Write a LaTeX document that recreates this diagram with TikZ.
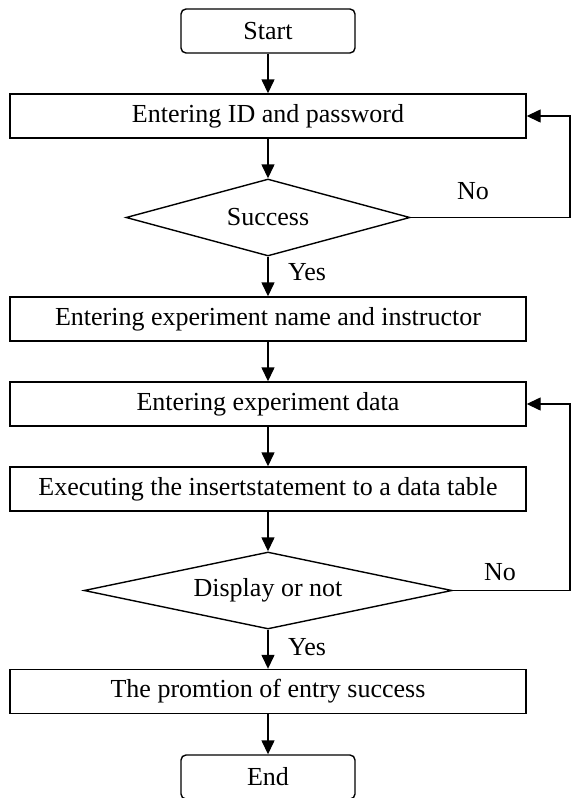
\documentclass[tikz,border=0pt]{standalone}
\usepackage{fontspec}
\setmainfont{Liberation Serif}
\usetikzlibrary{shapes.geometric,arrows.meta}
\begin{document}
\begin{tikzpicture}[x=1pt,y=-1pt,
  every node/.style={font=\fontsize{26}{30}\selectfont, inner sep=0pt},
  procbox/.style={draw, line width=1.4pt, minimum width=516pt, minimum height=44pt},
  termbox/.style={draw, line width=1.4pt, rounded corners=5pt, minimum width=174pt, minimum height=44pt},
  decbox/.style={draw, diamond, line width=1.4pt, shape aspect=4},
  arr/.style={line width=1.4pt, -{Triangle[length=14pt,width=13pt]}},
  lab/.style={}]
\useasboundingbox (0,0) rectangle (571,798);
\node[termbox] (start) at (268,31) {Start};
\node[procbox] (b1) at (268,116) {Entering ID and password};
\node[decbox, minimum width=284pt, minimum height=77pt] (d1) at (268,217.5) {Success};
\node[procbox] (b2) at (268,319) {Entering experiment name and instructor};
\node[procbox] (b3) at (268,404) {Entering experiment data};
\node[procbox] (b4) at (268,489) {Executing the insertstatement to a data table};
\node[decbox, minimum width=368pt, minimum height=77pt] (d2) at (268,590.5) {Display or not};
\node[procbox] (b5) at (268,691.5) {The promtion of entry success};
\node[termbox] (end) at (268,777) {End};
\coordinate (r1a) at (570,217.5);
\coordinate (r1b) at (570,116);
\coordinate (r2a) at (570,590.5);
\coordinate (r2b) at (570,404);
\draw[arr] (start) -- (b1);
\draw[arr] (b1) -- (d1);
\draw[arr] (d1) -- (b2);
\draw[arr] (b2) -- (b3);
\draw[arr] (b3) -- (b4);
\draw[arr] (b4) -- (d2);
\draw[arr] (d2) -- (b5);
\draw[arr] (b5) -- (end);
\draw[arr] (d1.east) -- (r1a) -- (r1b) -- (b1.east);
\draw[arr] (d2.east) -- (r2a) -- (r2b) -- (b3.east);
\node[lab] (no1) at (473,191) {No};
\node[lab] (no2) at (500,572) {No};
\node[lab] (yes1) at (307,272) {Yes};
\node[lab] (yes2) at (307,647) {Yes};
\end{tikzpicture}
\end{document}
